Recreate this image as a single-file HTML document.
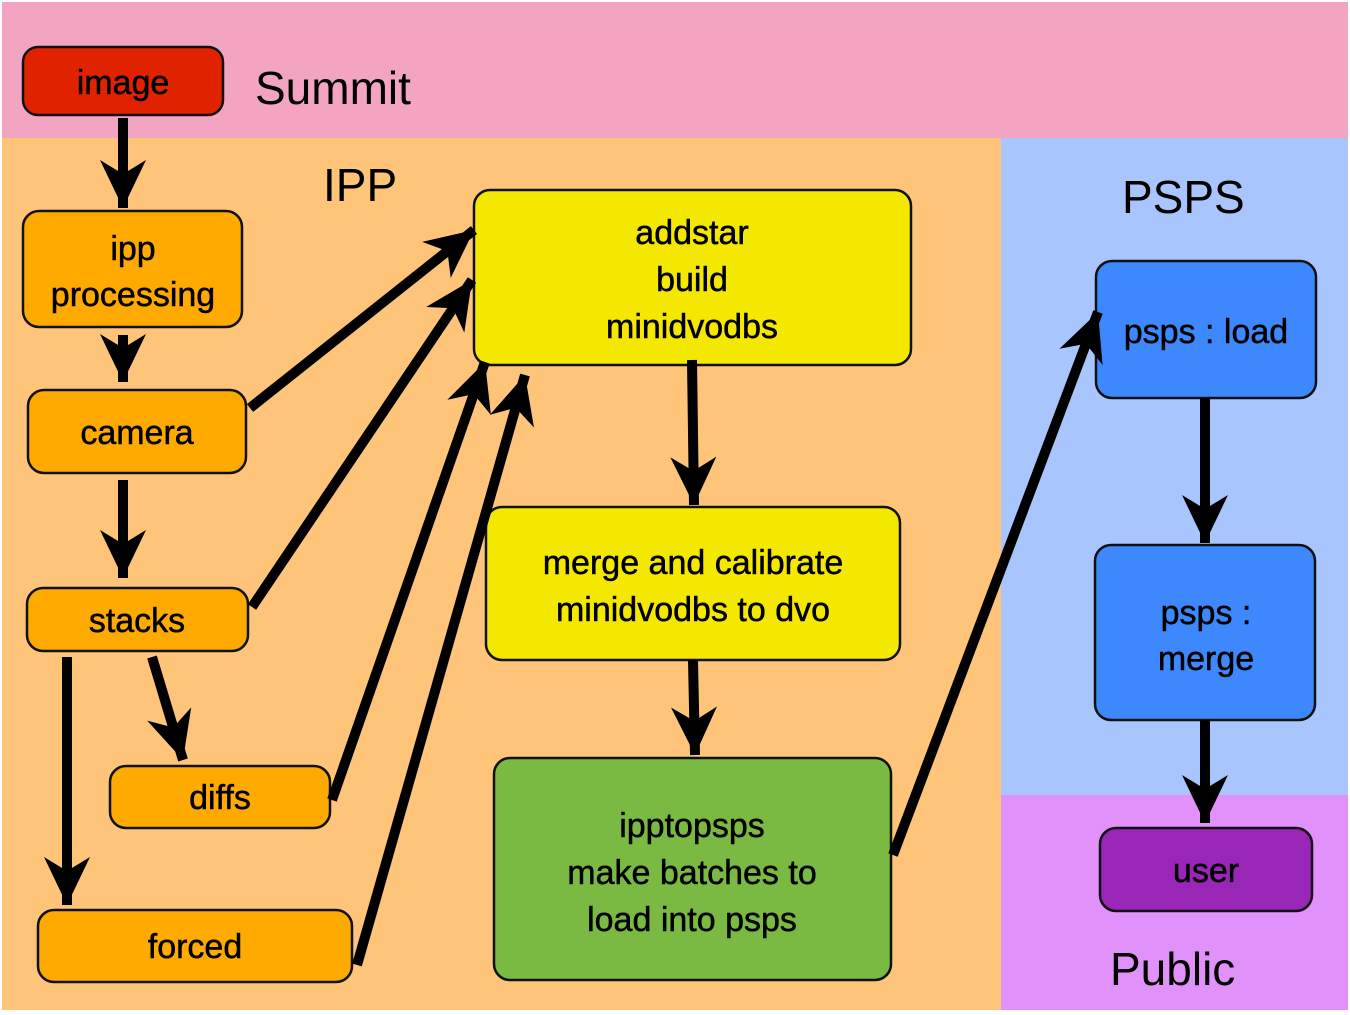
<!DOCTYPE html>
<html><head><meta charset="utf-8"><style>
html,body{margin:0;padding:0;background:#fff;}
svg{display:block;}
text{font-family:"Liberation Sans",sans-serif;fill:#000;}
.n{font-size:34px;text-anchor:middle;stroke:#000;stroke-width:0.5;}
.l{font-size:46px;}
.b{stroke:#111;stroke-width:2.5;}
</style></head><body>
<svg width="1350" height="1015" viewBox="0 0 1350 1015" xmlns="http://www.w3.org/2000/svg">
<defs>
<marker id="a" markerUnits="userSpaceOnUse" markerWidth="60" markerHeight="60" refX="48" refY="23" orient="auto">
<path d="M48,23 L0,0 L14,23 L0,46 Z" fill="#000"/>
</marker>
</defs>
<rect x="2" y="2" width="1346" height="136" fill="#f3a4c2"/>
<rect x="2" y="138" width="999" height="872" fill="#fec57a"/>
<rect x="1001" y="138" width="347" height="657" fill="#a8c5fd"/>
<rect x="1001" y="795" width="347" height="215" fill="#e191fa"/>

<text class="l" x="255" y="104">Summit</text>
<text class="l" x="323" y="201">IPP</text>
<text class="l" x="1122" y="213">PSPS</text>
<text class="l" x="1110" y="985">Public</text>

<g class="b">
<rect x="23" y="47" width="200" height="68" rx="15" fill="#e02200"/>
<rect x="23" y="211" width="219" height="116" rx="16" fill="#ffaa00"/>
<rect x="28" y="390" width="218" height="83" rx="16" fill="#ffaa00"/>
<rect x="27" y="588" width="221" height="63" rx="16" fill="#ffaa00"/>
<rect x="110" y="766" width="220" height="62" rx="16" fill="#ffaa00"/>
<rect x="38" y="910" width="314" height="72" rx="16" fill="#ffaa00"/>
<rect x="474" y="190" width="437" height="175" rx="16" fill="#f5e800"/>
<rect x="486" y="507" width="414" height="153" rx="16" fill="#f5e800"/>
<rect x="494" y="758" width="397" height="222" rx="16" fill="#7aba42"/>
<rect x="1096" y="261" width="220" height="137" rx="16" fill="#3d88fd"/>
<rect x="1095" y="545" width="220" height="175" rx="16" fill="#3d88fd"/>
<rect x="1100" y="828" width="212" height="83" rx="16" fill="#9a26b8"/>
</g>

<text class="n" x="123" y="94">image</text>
<text class="n" x="133" y="260">ipp</text>
<text class="n" x="133" y="306">processing</text>
<text class="n" x="137" y="444">camera</text>
<text class="n" x="137" y="632">stacks</text>
<text class="n" x="220" y="809">diffs</text>
<text class="n" x="195" y="958">forced</text>
<text class="n" x="692" y="244">addstar</text>
<text class="n" x="692" y="291">build</text>
<text class="n" x="692" y="338">minidvodbs</text>
<text class="n" x="693" y="574">merge and calibrate</text>
<text class="n" x="693" y="621">minidvodbs to dvo</text>
<text class="n" x="692" y="837">ipptopsps</text>
<text class="n" x="692" y="884">make batches to</text>
<text class="n" x="692" y="931">load into psps</text>
<text class="n" x="1206" y="343">psps : load</text>
<text class="n" x="1206" y="624">psps :</text>
<text class="n" x="1206" y="670">merge</text>
<text class="n" x="1206" y="882">user</text>

<g stroke="#000" stroke-width="10" fill="none" marker-end="url(#a)">
<line x1="123" y1="118" x2="123" y2="208"/>
<line x1="123" y1="335" x2="123" y2="382"/>
<line x1="123" y1="480" x2="123" y2="578"/>
<line x1="152" y1="657" x2="183" y2="760"/>
<line x1="67" y1="657" x2="67" y2="905"/>
<line x1="250" y1="408" x2="474" y2="230"/>
<line x1="252" y1="607" x2="472" y2="280"/>
<line x1="332" y1="800" x2="485" y2="362"/>
<line x1="357" y1="965" x2="525" y2="375"/>
<line x1="692" y1="360" x2="694" y2="505"/>
<line x1="693" y1="660" x2="695" y2="755"/>
<line x1="893" y1="855" x2="1098" y2="312"/>
<line x1="1205" y1="398" x2="1205" y2="543"/>
<line x1="1205" y1="720" x2="1205" y2="823"/>
</g>
</svg>
</body></html>
